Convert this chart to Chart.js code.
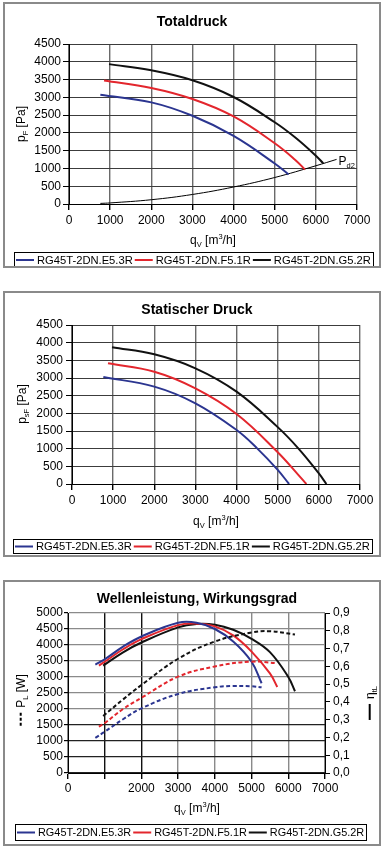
<!DOCTYPE html>
<html><head><meta charset="utf-8">
<script src="https://cdn.jsdelivr.net/npm/chart.js@4.4.1/dist/chart.umd.min.js"></script>
<style>
html,body{margin:0;padding:0;background:#fff;width:387px;height:853px;overflow:hidden;}
.box{position:absolute;left:3px;width:378px;height:266px;border:2px solid #8a8a8a;box-sizing:border-box;background:#fff;}
.box canvas{display:block;}
</style></head><body>
<div class="box" style="top:2px"><canvas id="c1" width="374" height="262"></canvas></div>
<div class="box" style="top:291px"><canvas id="c2" width="374" height="262"></canvas></div>
<div class="box" style="top:580px"><canvas id="c3" width="374" height="262"></canvas></div>
<script>
// ---------- DATA ----------
const seriesNames = ['RG45T-2DN.E5.3R', 'RG45T-2DN.F5.1R', 'RG45T-2DN.G5.2R'];
const xTicks = [0, 1000, 2000, 3000, 4000, 5000, 6000, 7000];

// Totaldruck p_F [Pa]
const totalQ_E = [762, 2000, 3000, 4000, 5000, 5337];
const totalP_E = [3075, 2858, 2481, 1915, 1140, 830];
const totalQ_F = [852, 2000, 3000, 4000, 5000, 5500, 5734];
const totalP_F = [3472, 3264, 2953, 2462, 1708, 1240, 972];
const totalQ_G = [973, 2000, 3000, 4000, 5000, 5500, 6000, 6180];
const totalP_G = [3934, 3760, 3480, 3009, 2300, 1870, 1360, 1142];
const pd2Q = [762, 1000, 2000, 3000, 4000, 5000, 6000, 6504];
const pd2P = [17, 30, 120, 268, 478, 745, 1075, 1255];

// Statischer Druck p_sF [Pa]
const staticQ_E = [762, 2000, 3000, 4000, 4500, 5000, 5276];
const staticP_E = [3028, 2755, 2283, 1528, 1009, 400, 0];
const staticQ_F = [875, 2000, 3000, 4000, 5000, 5500, 5697];
const staticP_F = [3415, 3179, 2708, 1981, 900, 260, 0];
const staticQ_G = [972, 2000, 3000, 4000, 5000, 5500, 6000, 6183];
const staticP_G = [3868, 3670, 3274, 2613, 1610, 1010, 300, 0];

// Wellenleistung P_L [W] (dashed)
const powerQ_E = [745, 1000, 1500, 2000, 3000, 4000, 4500, 5000, 5273];
const powerW_E = [1100, 1290, 1680, 2020, 2470, 2680, 2720, 2710, 2680];
const powerQ_F = [841, 1000, 1500, 2000, 3000, 4000, 5000, 5700];
const powerW_F = [1450, 1560, 2000, 2350, 3010, 3330, 3480, 3430];
const powerQ_G = [958, 1500, 2000, 3000, 4000, 5000, 5500, 6182];
const powerW_G = [1780, 2300, 2750, 3570, 4110, 4390, 4430, 4330];

// Wirkungsgrad eta_tL (solid)
const effQ_E = [745, 1000, 1500, 2000, 3000, 3500, 4000, 4500, 5000, 5273];
const effV_E = [0.61, 0.64, 0.711, 0.768, 0.845, 0.845, 0.81, 0.74, 0.626, 0.505];
const effQ_F = [841, 1000, 1500, 2000, 3000, 3500, 4000, 4500, 5000, 5500, 5700];
const effV_F = [0.604, 0.626, 0.696, 0.753, 0.832, 0.84, 0.825, 0.774, 0.683, 0.56, 0.484];
const effQ_G = [958, 1500, 2000, 3000, 3500, 4000, 4500, 5000, 5500, 6000, 6182];
const effV_G = [0.604, 0.679, 0.734, 0.819, 0.838, 0.834, 0.806, 0.755, 0.68, 0.54, 0.46];

// ---------- STYLE ----------
const FONT = '"Liberation Sans", Arial, Helvetica, sans-serif';
const COLORS = ['#2b3590', '#e3262d', '#111111'];

function zip(xs, ys) { return xs.map((x, i) => ({x: x, y: ys[i]})); }
function line(label, color, xs, ys, extra) {
  return Object.assign({
    label: label, data: zip(xs, ys), borderColor: color, backgroundColor: color,
    borderWidth: 2, pointRadius: 0, fill: false, tension: 0.4, cubicInterpolationMode: 'default'
  }, extra || {});
}

function drawRich(ctx, x, y, segs, rot) {
  ctx.save();
  ctx.translate(x, y);
  ctx.rotate(rot || 0);
  const ws = segs.map(s => {
    if (s.line) return s.len;
    if (s.gap) return s.gap;
    ctx.font = (s.bold ? 'bold ' : '') + (s.size || 12) + 'px ' + FONT;
    return ctx.measureText(s.t).width;
  });
  const total = ws.reduce((a, b) => a + b, 0);
  let cx = -total / 2;
  ctx.textAlign = 'left';
  ctx.textBaseline = 'alphabetic';
  ctx.fillStyle = '#000';
  segs.forEach((s, i) => {
    if (s.line) {
      ctx.beginPath();
      ctx.strokeStyle = '#000';
      ctx.lineWidth = s.lw || 2;
      ctx.setLineDash(s.dash || []);
      ctx.moveTo(cx, -0.3); ctx.lineTo(cx + s.len, -0.3);
      ctx.stroke();
      ctx.setLineDash([]);
    } else if (!s.gap) {
      ctx.font = (s.bold ? 'bold ' : '') + (s.size || 12) + 'px ' + FONT;
      ctx.fillText(s.t, cx, 4 + (s.dy || 0));
    }
    cx += ws[i];
  });
  ctx.restore();
}

const decoPlugin = {
  id: 'deco',
  afterDraw(chart, args, opts) {
    const ctx = chart.ctx;
    if (opts.title) {
      drawRich(ctx, opts.title.x, opts.title.y + 1, [{t: opts.title.text, size: 14, bold: true}], 0);
    }
    (opts.texts || []).forEach(t => drawRich(ctx, t.x, t.y, t.segs, t.rot || 0));
    if (opts.endLabel) {
      const meta = chart.getDatasetMeta(opts.endLabel.ds);
      const p = meta.data[meta.data.length - 1];
      ctx.save();
      ctx.fillStyle = '#000';
      ctx.textBaseline = 'alphabetic';
      ctx.textAlign = 'left';
      ctx.font = '12px ' + FONT;
      ctx.fillText('P', p.x + 2, p.y + 6);
      const w = ctx.measureText('P').width;
      ctx.font = '7.5px ' + FONT;
      ctx.fillText('d2', p.x + 2 + w, p.y + 9);
      ctx.restore();
    }
    if (opts.legend) {
      const L = opts.legend;
      ctx.save();
      ctx.font = L.size + 'px ' + FONT;
      const labels = L.items.map(i => chart.data.datasets[i].label);
      const widths = labels.map(t => ctx.measureText(t).width);
      const lineLen = 18, gap = 3, between = 2, padL = 2, padR = 2;
      let total = padL + padR + between * (labels.length - 1);
      widths.forEach(w => total += lineLen + gap + w);
      const left = Math.round(L.cx - total / 2);
      ctx.strokeStyle = '#000';
      ctx.lineWidth = 1;
      ctx.strokeRect(left + 0.5, L.top + 0.5, Math.round(total), L.h);
      let x = left + padL;
      const my = L.top + 0.5 + L.h / 2;
      L.items.forEach((i, k) => {
        ctx.beginPath();
        ctx.strokeStyle = chart.data.datasets[i].borderColor;
        ctx.lineWidth = 2;
        ctx.moveTo(x, my); ctx.lineTo(x + lineLen, my);
        ctx.stroke();
        x += lineLen + gap;
        ctx.fillStyle = '#000';
        ctx.textBaseline = 'middle';
        ctx.textAlign = 'left';
        ctx.fillText(labels[k], x, my + 0.5);
        x += widths[k] + between;
      });
      ctx.restore();
    }
  }
};
Chart.register(decoPlugin);

const tickFont = {family: FONT, size: 12};
const qTitle = [{t: 'q'}, {t: 'V', size: 7.5, dy: 3}, {t: ' [m'}, {t: '3', size: 7.5, dy: -5}, {t: '/h]'}];

function pressureChart(id, datasets, cfg) {
  return new Chart(document.getElementById(id), {
    type: 'line',
    data: {datasets: datasets},
    options: {
      responsive: false, animation: false, devicePixelRatio: 1,
      layout: {padding: {left: 0, right: cfg.padRight, top: cfg.padTop, bottom: 0}},
      plugins: {
        legend: {display: false}, tooltip: {enabled: false}, title: {display: false},
        deco: cfg.deco
      },
      scales: {
        x: {
          type: 'linear', min: 0, max: 7000,
          afterBuildTicks: s => { s.ticks = xTicks.map(v => ({value: v})); },
          ticks: {font: tickFont, color: '#000', padding: 3, maxRotation: 0, autoSkip: false,
                  callback: v => String(v)},
          grid: {color: '#6a6a6a', lineWidth: 1.4, tickLength: 6, tickColor: '#000'},
          border: {color: '#000', width: 1},
          afterFit: s => { s.height = cfg.xHeight; }
        },
        y: {
          min: 0, max: 4500,
          ticks: {stepSize: 500, font: tickFont, color: '#000', padding: cfg.yPad, autoSkip: false, callback: v => String(v)},
          grid: {color: '#3c3c3c', lineWidth: 1, tickLength: 6, tickColor: '#000'},
          border: {color: '#000', width: 1},
          afterFit: s => { s.width = cfg.yWidth; }
        }
      }
    }
  });
}

// Chart 1: Totaldruck
pressureChart('c1', [
  line(seriesNames[0], COLORS[0], totalQ_E, totalP_E),
  line(seriesNames[1], COLORS[1], totalQ_F, totalP_F),
  line(seriesNames[2], COLORS[2], totalQ_G, totalP_G),
  line('Pd2', '#000', pd2Q, pd2P, {borderWidth: 1})
], {
  padRight: 22, padTop: 40, xHeight: 62, yWidth: 64, yPad: 2,
  deco: {
    title: {text: 'Totaldruck', x: 187, y: 17},
    texts: [
      {x: 16, y: 120, rot: -Math.PI / 2, segs: [{t: 'p'}, {t: 'F', size: 7.5, dy: 3}, {t: ' [Pa]'}]},
      {x: 208, y: 236, segs: qTitle}
    ],
    endLabel: {ds: 3},
    legend: {cx: 188, top: 248, h: 15, size: 11.2, items: [0, 1, 2]}
  }
});

// Chart 2: Statischer Druck
pressureChart('c2', [
  line(seriesNames[0], COLORS[0], staticQ_E, staticP_E),
  line(seriesNames[1], COLORS[1], staticQ_F, staticP_F),
  line(seriesNames[2], COLORS[2], staticQ_G, staticP_G)
], {
  padRight: 19, padTop: 32, xHeight: 71, yWidth: 67, yPad: 3,
  deco: {
    title: {text: 'Statischer Druck', x: 192, y: 16},
    texts: [
      {x: 17, y: 111, rot: -Math.PI / 2, segs: [{t: 'p'}, {t: 'sF', size: 7.5, dy: 3}, {t: ' [Pa]'}]},
      {x: 211, y: 228, segs: qTitle}
    ],
    legend: {cx: 187.5, top: 246, h: 14, size: 11.2, items: [0, 1, 2]}
  }
});

// Chart 3: Wellenleistung, Wirkungsgrad
const dash = [4, 2.5];
new Chart(document.getElementById('c3'), {
  type: 'line',
  data: {datasets: [
    line(seriesNames[0], COLORS[0], powerQ_E, powerW_E, {borderDash: dash, yAxisID: 'y'}),
    line(seriesNames[1], COLORS[1], powerQ_F, powerW_F, {borderDash: dash, yAxisID: 'y'}),
    line(seriesNames[2], COLORS[2], powerQ_G, powerW_G, {borderDash: dash, yAxisID: 'y'}),
    line(seriesNames[0], COLORS[0], effQ_E, effV_E, {yAxisID: 'y1'}),
    line(seriesNames[1], COLORS[1], effQ_F, effV_F, {yAxisID: 'y1'}),
    line(seriesNames[2], COLORS[2], effQ_G, effV_G, {yAxisID: 'y1'})
  ]},
  options: {
    responsive: false, animation: false, devicePixelRatio: 1,
    layout: {padding: {left: 0, right: 0, top: 31, bottom: 0}},
    plugins: {
      legend: {display: false}, tooltip: {enabled: false}, title: {display: false},
      deco: {
        title: {text: 'Wellenleistung, Wirkungsgrad', x: 192, y: 16},
        texts: [
          {x: 16, y: 118, rot: -Math.PI / 2, segs: [{line: true, len: 14, dash: [3, 2], lw: 2}, {gap: 4}, {t: 'P'}, {t: 'L', size: 7.5, dy: 3}, {t: ' [W]'}]},
          {x: 365, y: 121, rot: -Math.PI / 2, segs: [{line: true, len: 16, lw: 2}, {gap: 5}, {t: 'η'}, {t: 'tL', size: 7.5, dy: 3}]},
          {x: 192, y: 226, segs: qTitle}
        ],
        legend: {cx: 186, top: 242, h: 16, size: 10.9, items: [3, 4, 5]}
      }
    },
    scales: {
      x: {
        type: 'linear', min: 0, max: 7000,
        afterBuildTicks: s => { s.ticks = xTicks.map(v => ({value: v})); },
        ticks: {font: tickFont, color: '#000', padding: 2, maxRotation: 0, autoSkip: false,
                callback: v => (v === 1000 ? '' : String(v))},
        grid: {color: c => (c.tick && (c.tick.value === 1000 || c.tick.value === 2000)) ? '#111' : '#8a8a8a',
               lineWidth: 1.4, tickLength: 6, tickColor: '#000'},
        border: {color: '#000', width: 1},
        afterFit: s => { s.height = 71; }
      },
      y: {
        position: 'left', min: 0, max: 5000,
        ticks: {stepSize: 500, font: tickFont, color: '#000', padding: 1, autoSkip: false, callback: v => String(v)},
        grid: {color: c => (c.tick && c.tick.value <= 1500) ? '#222' : '#8a8a8a', lineWidth: 1.2, tickLength: 4, tickColor: '#000'},
        border: {color: '#000', width: 1},
        afterFit: s => { s.width = 63; }
      },
      y1: {
        position: 'right', min: 0, max: 0.9,
        ticks: {stepSize: 0.1, font: tickFont, color: '#000', padding: 3, autoSkip: false,
                callback: v => Number(v).toFixed(1).replace('.', ',')},
        grid: {drawOnChartArea: false, tickLength: 5, tickColor: '#000'},
        border: {color: '#000', width: 1},
        afterFit: s => { s.width = 54; }
      }
    }
  }
});
</script>
</body></html>
